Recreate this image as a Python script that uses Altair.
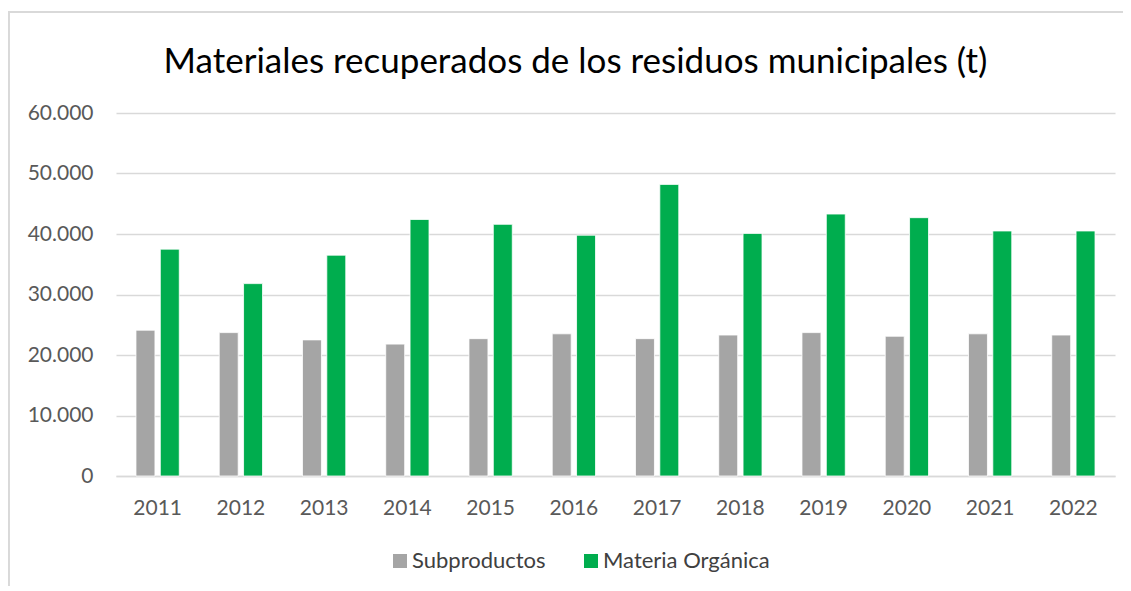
import altair as alt
import pandas as pd

years = ["2011", "2012", "2013", "2014", "2015", "2016", "2017", "2018", "2019", "2020", "2021", "2022"]
subproductos = [24100, 23700, 22500, 21800, 22700, 23500, 22700, 23300, 23700, 23100, 23500, 23300]
materia_organica = [37500, 31800, 36500, 42400, 41600, 39800, 48200, 40100, 43300, 42700, 40500, 40500]
series = ["Subproductos", "Materia Orgánica"]
colors = ["#a5a5a5", "#00ad4e"]

rows = []
for i, y in enumerate(years):
    rows.append({"Año": y, "Serie": series[0], "Valor": subproductos[i]})
    rows.append({"Año": y, "Serie": series[1], "Valor": materia_organica[i]})
df = pd.DataFrame(rows)

FONT = "Lato"
W, H = 999, 363
LEFT, TOP = 108, 105

bars = alt.Chart(df).mark_bar(stroke="#ffffff", strokeWidth=0.8).encode(
    x=alt.X("Año:N", sort=years, title=None,
            scale=alt.Scale(paddingInner=0.48, paddingOuter=0.24),
            axis=alt.Axis(labelAngle=0, labelFontSize=21, labelColor="#595959", labelFont=FONT,
                          labelPadding=21, ticks=False, domainColor="#d9d9d9", domainWidth=1.5)),
    xOffset=alt.XOffset("Serie:N", sort=series, scale=alt.Scale(paddingInner=0.22)),
    y=alt.Y("Valor:Q", title=None,
            scale=alt.Scale(domain=[0, 60000]),
            axis=alt.Axis(values=[0, 10000, 20000, 30000, 40000, 50000, 60000],
                          labelExpr="replace(format(datum.value, ','), ',', '.')",
                          labelFontSize=21, labelColor="#595959", labelFont=FONT,
                          labelPadding=23, ticks=False, domain=False,
                          gridColor="#d9d9d9", gridWidth=1.5)),
    color=alt.Color("Serie:N", sort=series, scale=alt.Scale(domain=series, range=colors),
                    legend=alt.Legend(title=None, orient="none", direction="horizontal",
                                      legendX=273, legendY=H + 74,
                                      symbolType="square", symbolSize=196, symbolStrokeWidth=0,
                                      labelFontSize=22, labelColor="#404040", labelFont=FONT,
                                      labelLimit=400,
                                      columnPadding=34, symbolOffset=0, labelOffset=1)),
)

frame_top = alt.Chart(df).mark_rule(color="#d9d9d9", strokeWidth=1.5).encode(
    x=alt.value(-LEFT - 10), x2=alt.value(W + 40), y=alt.value(-(TOP - 4))
)
frame_left = alt.Chart(df).mark_rule(color="#d9d9d9", strokeWidth=1.5).encode(
    x=alt.value(-LEFT + 0.75), y=alt.value(-(TOP - 4)), y2=alt.value(H + 130)
)

chart = alt.layer(frame_top, frame_left, bars).properties(
    width=W, height=H,
    title=alt.TitleParams("Materiales recuperados de los residuos municipales (t)",
                          font=FONT, fontSize=35, fontWeight="normal", color="#000000",
                          anchor="middle", frame="group", offset=0, dx=-40, dy=69),
    autosize=alt.AutoSizeParams(type="none"),
    padding={"left": LEFT, "top": TOP, "right": 8, "bottom": 110},
).configure(background="#ffffff", view=alt.ViewConfig(stroke=None))

chart.save("out.html", embed_options={"renderer": "svg", "actions": False})
